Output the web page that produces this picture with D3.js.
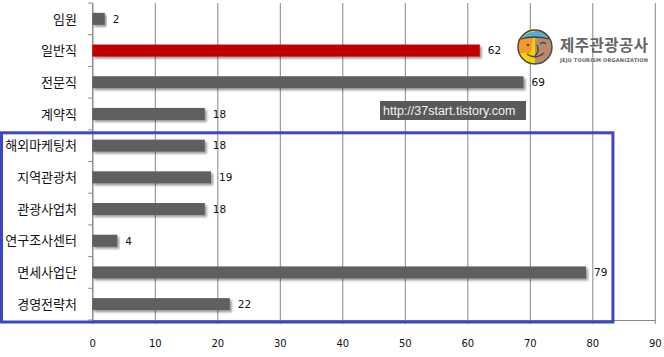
<!DOCTYPE html>
<html><head><meta charset="utf-8">
<script src="https://cdn.jsdelivr.net/npm/d3@7"></script>
<style>
html,body{margin:0;padding:0;background:#fff;}
svg{display:block;}
</style></head>
<body>
<svg id="c" width="664" height="357"></svg>
<script>
const categories = ["임원","일반직","전문직","계약직","해외마케팅처","지역관광처","관광사업처","연구조사센터","면세사업단","경영전략처"];
const values = [2,62,69,18,18,19,18,4,79,22];
const highlight = ["일반직"];
const xTicks = [0,10,20,30,40,50,60,70,80,90];
const boxedCategories = ["해외마케팅처","경영전략처"];

(function(){
const svg = d3.select("#c");
const defs = svg.append("defs");
const f = defs.append("filter").attr("id","sh").attr("x","-5%").attr("y","-30%").attr("width","115%").attr("height","180%");
f.append("feDropShadow").attr("dx",2).attr("dy",2).attr("stdDeviation",1.2).attr("flood-color","#000").attr("flood-opacity",0.4);

const pL = 92.3, pR = 654.8, pT = 3, pB = 320;
const x = d3.scaleLinear().domain([0,90]).range([pL,pR]);
const y = d3.scaleBand().domain(categories).range([pT,pB]).paddingInner(0.62).paddingOuter(0.31);
const yTick = d3.scaleBand().domain(categories).range([pT,pB]);

// gridlines
const xAxis = d3.axisBottom(x).tickValues(xTicks).tickSize(-(pB-pT)).tickPadding(20).tickSizeOuter(0);
const gx = svg.append("g").attr("transform",`translate(0,${pB})`).call(xAxis);
gx.select(".domain").attr("stroke","#868686");
gx.selectAll(".tick line").attr("stroke","#868686").attr("y2",-(pB-pT)).attr("y1",4);
gx.selectAll(".tick text").attr("font-family","DejaVu Sans").attr("font-size","10px").attr("fill","#111").attr("dy","0.71em");

// y axis
const yAxis = d3.axisLeft(yTick).tickSize(0).tickFormat("");
const gy = svg.append("g").attr("transform",`translate(${pL},0)`).call(yAxis);
gy.select(".domain").attr("stroke","#868686");
gy.selectAll(".tick").remove();
const bounds = categories.map(c=>yTick(c)).concat([pB]);
svg.append("g").selectAll("line").data(bounds).join("line")
  .attr("x1",pL-4).attr("x2",pL).attr("y1",d=>d).attr("y2",d=>d).attr("stroke","#868686");

// category labels
svg.append("g").selectAll("text").data(categories).join("text")
  .attr("x",77).attr("y",d=>yTick(d)+yTick.bandwidth()/2).attr("dy","0.36em")
  .attr("text-anchor","end").attr("font-family","'Noto Sans CJK KR'").attr("font-size","13px").attr("fill","#111")
  .text(d=>d);

// bars
svg.append("g").selectAll("rect").data(categories).join("rect")
  .attr("x",x(0)).attr("y",d=>y(d)).attr("height",y.bandwidth())
  .attr("width",(d,i)=>x(values[i])-x(0))
  .attr("fill",d=>highlight.includes(d)?"#c00000":"#5f5f5f")
  .attr("filter","url(#sh)");

// value labels
svg.append("g").selectAll("text").data(categories).join("text")
  .attr("x",(d,i)=>x(values[i])+8).attr("y",d=>y(d)+y.bandwidth()/2).attr("dy","0.36em")
  .attr("font-family","DejaVu Sans").attr("font-size","10.5px").attr("fill","#111")
  .text((d,i)=>values[i]);

// blue highlight box
const by0 = yTick(boxedCategories[0]) + 3, by1 = pB + 2;
svg.append("rect").attr("x",1.5).attr("y",by0).attr("width",x(83.3)-1.5).attr("height",by1-by0)
  .attr("fill","none").attr("stroke","#3c46c4").attr("stroke-width",3);

// watermark
svg.append("rect").attr("x",380).attr("y",101).attr("width",146).attr("height",19).attr("fill","#595959");
svg.append("text").attr("x",383).attr("y",114.5).attr("font-family","'Liberation Sans'").attr("font-size","12.5px")
  .attr("fill","#f2f2f2").text("http://37start.tistory.com");

// logo
const lg = svg.append("g").attr("transform","translate(535,47)");
const r = 17;
lg.append("circle").attr("r",r).attr("fill","#b98b6e");
lg.append("path").attr("d",`M0,${-r} A${r},${r} 0 0,0 0,${r} Z`).attr("fill","#f5d300");
lg.append("path").attr("d",`M-2,-9 L-${r-1},-9 A${r},${r} 0 0,0 -15,6 L-4,6 Z`).attr("fill","#f29a2e");
lg.append("path").attr("d",`M-14,-8 A${r},${r} 0 0,1 14,-8 Q0,-12 -14,-8 Z`).attr("fill","#4fb0e0");
lg.append("path").attr("d",`M-14,-8 Q0,-12 14,-8`).attr("fill","none").attr("stroke","#444").attr("stroke-width",1.3);
lg.append("path").attr("d","M-8,7 Q0,13 9,6").attr("fill","none").attr("stroke","#444").attr("stroke-width",1.3);
lg.append("path").attr("d","M2,-2 Q5,4 0,9").attr("fill","none").attr("stroke","#444").attr("stroke-width",1.3);
lg.append("path").attr("d","M5,-3 Q8,-6 11,-3").attr("fill","none").attr("stroke","#444").attr("stroke-width",1.2);
lg.append("circle").attr("cx",-7).attr("cy",-2).attr("r",1.3).attr("fill","#444");
lg.append("circle").attr("r",r).attr("fill","none").attr("stroke","#444").attr("stroke-width",1.4);
svg.append("text").attr("x",560).attr("y",51).attr("font-family","'Noto Sans CJK KR'").attr("font-weight","bold")
  .attr("font-size","15.5px").attr("fill","#666").attr("textLength",88).text("제주관광공사");
svg.append("text").attr("x",560).attr("y",62).attr("font-family","'DejaVu Sans'").attr("font-weight","bold")
  .attr("font-size","5px").attr("fill","#666").attr("textLength",88).text("JEJU TOURISM ORGANIZATION");
})();
</script>
</body></html>
